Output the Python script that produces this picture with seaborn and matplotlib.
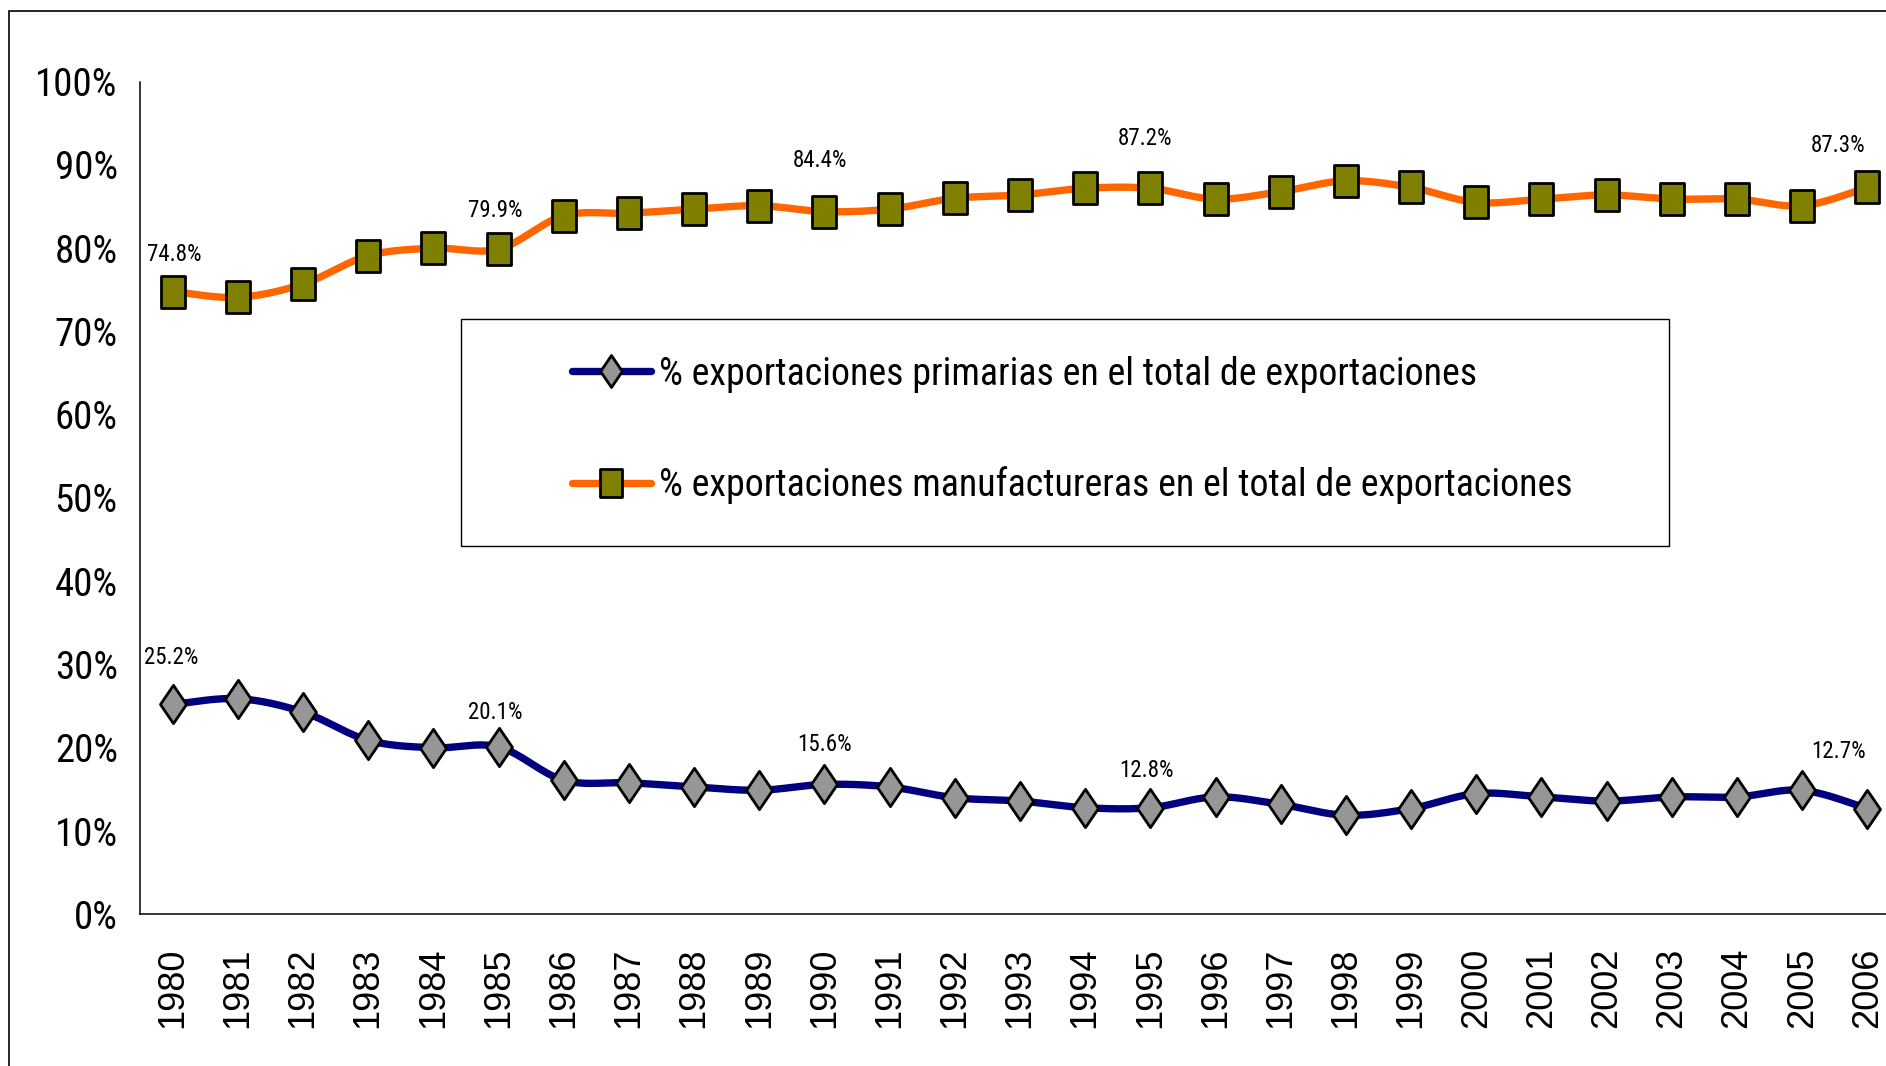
import numpy as np
import pandas as pd
import matplotlib.pyplot as plt
import seaborn as sns
from matplotlib.path import Path
from matplotlib.markers import MarkerStyle
from matplotlib.lines import Line2D
from matplotlib import font_manager

# data (share of total exports, %)
years = list(range(1980, 2007))
primarias = [25.2, 25.9, 24.3, 20.9, 20.0, 20.1, 16.1, 15.8, 15.3, 14.9, 15.6, 15.3, 14.0, 13.6,
             12.8, 12.8, 14.1, 13.2, 11.9, 12.7, 14.5, 14.1, 13.6, 14.1, 14.1, 14.9, 12.7]
manufacturas = [74.8, 74.1, 75.7, 79.1, 80.0, 79.9, 83.9, 84.2, 84.7, 85.1, 84.4, 84.7, 86.0, 86.4,
                87.2, 87.2, 85.9, 86.8, 88.1, 87.3, 85.5, 85.9, 86.4, 85.9, 85.9, 85.1, 87.3]
label_years = [1980, 1985, 1990, 1995, 2006]
yticks = [0, 10, 20, 30, 40, 50, 60, 70, 80, 90, 100]

name_prim = "% exportaciones primarias en el total de exportaciones"
name_manu = "% exportaciones manufactureras en el total de exportaciones"

NAVY = "#000080"
ORANGE = "#FF6600"
OLIVE = "#808000"
GRAY = "#969696"

# the source uses a narrow font; take one if the machine has it
installed = {f.name for f in font_manager.fontManager.ttflist}
narrow = [n for n in ["Liberation Sans Narrow", "Arial Narrow", "Roboto Condensed",
                      "Nimbus Sans Narrow", "Open Sans Condensed"] if n in installed]
if narrow:
    NARROW = [narrow[0], "Liberation Sans"]
    shrink = 1.0
else:
    NARROW = ["Liberation Sans"]
    shrink = 0.88


def smooth(vals, n=20):
    # excel-like smoothed line (catmull-rom bezier through the points)
    x = np.arange(len(vals), dtype=float)
    y = np.asarray(vals, dtype=float)
    px = np.concatenate([[x[0]], x, [x[-1]]])
    py = np.concatenate([[y[0]], y, [y[-1]]])
    xs, ys = [], []
    for i in range(len(vals) - 1):
        p0 = np.array([px[i], py[i]])
        p1 = np.array([px[i + 1], py[i + 1]])
        p2 = np.array([px[i + 2], py[i + 2]])
        p3 = np.array([px[i + 3], py[i + 3]])
        c1 = p1 + (p2 - p0) / 6
        c2 = p2 - (p3 - p1) / 6
        t = np.linspace(0, 1, n)[:, None]
        b = ((1 - t) ** 3) * p1 + 3 * ((1 - t) ** 2) * t * c1 + 3 * (1 - t) * t ** 2 * c2 + t ** 3 * p2
        xs.extend(b[:, 0])
        ys.extend(b[:, 1])
    return pd.DataFrame({"x": xs, "y": ys})


square = MarkerStyle(Path([(-0.38, -0.5), (0.38, -0.5), (0.38, 0.5), (-0.38, 0.5), (-0.38, -0.5)], closed=True))
diamond = MarkerStyle(Path([(0, -0.5), (0.34, 0), (0, 0.5), (-0.34, 0), (0, -0.5)], closed=True))

sns.set_style("white")
plt.rcParams["font.family"] = ["Liberation Sans", "DejaVu Sans"]
plt.rcParams["text.color"] = "black"
plt.rcParams["xtick.color"] = "black"
plt.rcParams["ytick.color"] = "black"

fig = plt.figure(figsize=(18.86, 10.66), dpi=100)
ax = fig.add_axes([140 / 1886, 151.7 / 1066, 1760 / 1886, 832.6 / 1066])

pos = np.arange(len(years))
sns.lineplot(data=smooth(primarias), x="x", y="y", sort=False, estimator=None,
             color=NAVY, lw=5.3, ax=ax, zorder=2)
sns.lineplot(data=smooth(manufacturas), x="x", y="y", sort=False, estimator=None,
             color=ORANGE, lw=5.3, ax=ax, zorder=2)
sns.scatterplot(x=pos, y=primarias, marker=diamond, s=760, color=GRAY, edgecolor="black",
                linewidth=2.0, ax=ax, zorder=4, clip_on=False)
sns.scatterplot(x=pos, y=manufacturas, marker=square, s=500, color=OLIVE, edgecolor="black",
                linewidth=2.0, ax=ax, zorder=4, clip_on=False)

# data labels
manu_off = [(1, 27), (-2, 28), (-3, 37), (-4, 36), (-21, 30)]
prim_off = [(-1, 34), (-2, 25), (0, 29), (-3, 27), (-21, 41)]
for yr, (dx, dy) in zip(label_years, manu_off):
    i = years.index(yr)
    ax.annotate(f"{manufacturas[i]:.1f}%", xy=(i, manufacturas[i]), xytext=(dx, dy),
                textcoords="offset points", ha="center", va="center", fontsize=16.5 * shrink ** 0.5,
                family=NARROW, annotation_clip=False)
for yr, (dx, dy) in zip(label_years, prim_off):
    i = years.index(yr)
    ax.annotate(f"{primarias[i]:.1f}%", xy=(i, primarias[i]), xytext=(dx, dy),
                textcoords="offset points", ha="center", va="center", fontsize=16.5 * shrink ** 0.5,
                family=NARROW, annotation_clip=False)

ax.set_xlim(-0.5, len(years) - 0.5)
ax.set_ylim(0, 100)
ax.set_xlabel("")
ax.set_ylabel("")
ax.set_xticks(pos)
ax.set_xticklabels([str(y) for y in years], rotation=90, fontsize=26)
ax.set_xticks(np.arange(-0.5, len(years), 1), minor=True)
ax.tick_params(axis="x", which="major", length=0, pad=24)
ax.tick_params(axis="x", which="minor", length=7.2, width=1, direction="out", color="black")
ax.set_yticks(yticks)
ax.set_yticklabels([f"{v}%" for v in yticks], fontsize=28 * shrink ** 0.5, family=NARROW)
ax.tick_params(axis="y", length=5.5, width=1, direction="out", pad=10.5, color="black")
ax.spines["top"].set_visible(False)
ax.spines["right"].set_visible(False)
for s in ["left", "bottom"]:
    ax.spines[s].set_color("black")
    ax.spines[s].set_linewidth(1.1)

# legend: frameless, with its own box drawn as in the source
handles = [
    Line2D([], [], color=NAVY, lw=5.3, marker=diamond, markersize=23, markerfacecolor=GRAY,
           markeredgecolor="black", markeredgewidth=2.0),
    Line2D([], [], color=ORANGE, lw=5.3, marker=square, markersize=20, markerfacecolor=OLIVE,
           markeredgecolor="black", markeredgewidth=2.0),
]
fs = 27.3 * shrink
fig.legend(handles, [name_prim, name_manu], loc="center left",
           bbox_to_anchor=(571.7 / 1886, 1 - 430 / 1066), frameon=False,
           prop={"family": NARROW, "size": fs}, handlelength=57 / fs, handletextpad=5.5 / fs,
           labelspacing=53 / fs, borderpad=0, borderaxespad=0)
fig.patches.append(plt.Rectangle((460.7 / 1886, 1 - 546 / 1066), 1208.3 / 1886, 226.7 / 1066,
                                 transform=fig.transFigure, fill=False, ec="black", lw=1.0))
# chart area border
fig.patches.append(plt.Rectangle((9 / 1886, -0.1), 1.2, 1.1 - 11 / 1066,
                                 transform=fig.transFigure, fill=False, ec="black", lw=1.2))

fig.savefig("out.png", dpi=100)
